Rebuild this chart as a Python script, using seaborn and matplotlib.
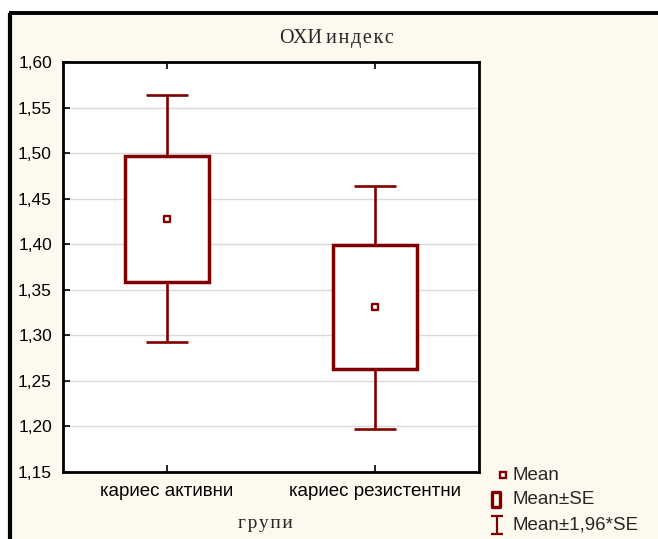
import numpy as np
import pandas as pd
import matplotlib
matplotlib.use("Agg")
import matplotlib.pyplot as plt
from matplotlib.path import Path
from matplotlib.lines import Line2D
from matplotlib.patches import Rectangle
import seaborn as sns

# Group summary: mean and standard error of the index
groups = ["кариес активни", "кариес резистентни"]
means = [1.428, 1.331]
ses = [0.069, 0.068]
yticks = [1.15, 1.20, 1.25, 1.30, 1.35, 1.40, 1.45, 1.50, 1.55, 1.60]
legend_labels = ["Mean", "Mean±SE", "Mean±1,96*SE"]

DARK = "#800000"
CREAM = "#FEF9EF"
SERIF = ["Liberation Serif", "DejaVu Serif"]

sns.set_theme(style="white")
plt.rcParams["font.family"] = ["Liberation Sans", "DejaVu Sans"]

df = pd.DataFrame({"group": groups, "mean": means, "se": ses})
df["lo_se"] = df["mean"] - df["se"]
df["hi_se"] = df["mean"] + df["se"]
df["lo_ci"] = df["mean"] - 1.96 * df["se"]
df["hi_ci"] = df["mean"] + 1.96 * df["se"]

W, H = 658, 539
fig = plt.figure(figsize=(W / 100, H / 100), dpi=100, facecolor="white")


def fx(px):
    return px / W


def fy(py):
    return 1 - py / H


# cream panel with a heavy black edge on left and top
fig.add_artist(Rectangle((fx(12), 0), 1, fy(14), transform=fig.transFigure,
                         facecolor=CREAM, edgecolor="none", zorder=-10))
fig.add_artist(Line2D([fx(10), fx(10)], [0, fy(12.5)], transform=fig.transFigure,
                      color="black", lw=3.0, solid_capstyle="butt"))
fig.add_artist(Line2D([fx(8.5), 1], [fy(12.5), fy(12.5)], transform=fig.transFigure,
                      color="black", lw=2.8, solid_capstyle="butt"))

ax = fig.add_axes([fx(63), fy(472), (479 - 63) / W, (472 - 62) / H])
ax.set_facecolor("white")

x = np.arange(len(groups))
box_w = 0.40
cap_w = 0.20

# boxes: mean ± SE
for xi, lo, hi in zip(x, df["lo_se"], df["hi_se"]):
    ax.add_patch(Rectangle((xi - box_w / 2, lo), box_w, hi - lo, facecolor="white",
                           edgecolor=DARK, lw=2.5, zorder=3))
# whiskers: mean ± 1.96*SE
ax.vlines(x, df["hi_se"], df["hi_ci"], color=DARK, lw=1.9, zorder=3)
ax.vlines(x, df["lo_ci"], df["lo_se"], color=DARK, lw=1.9, zorder=3)
ax.hlines(df["hi_ci"], x - cap_w / 2, x + cap_w / 2, color=DARK, lw=1.9, zorder=3)
ax.hlines(df["lo_ci"], x - cap_w / 2, x + cap_w / 2, color=DARK, lw=1.9, zorder=3)

# mean markers
df["pos"] = x
sns.scatterplot(data=df, x="pos", y="mean", marker="s", s=24, facecolor="white",
                edgecolor=DARK, linewidth=1.7, zorder=4, ax=ax, legend=False)

ax.set_xlim(-0.5, 1.5)
ax.set_ylim(1.15, 1.60)
ax.set_yticks(yticks)
ax.set_yticklabels([f"{v:.2f}".replace(".", ",") for v in yticks], fontsize=12.5)
ax.set_xticks(x)
ax.set_xticklabels(groups, fontsize=13.5)
ax.grid(axis="y", color="#DADADA", lw=1.0, zorder=0)
ax.grid(axis="x", visible=False)
ax.set_axisbelow(True)
ax.tick_params(axis="both", direction="in", length=5, width=1.2, color="black",
               top=True, left=True, bottom=True, right=False, labelcolor="black")
ax.tick_params(axis="x", pad=8)
ax.tick_params(axis="y", pad=8)
for s in ax.spines.values():
    s.set_visible(True)
    s.set_color("black")
    s.set_linewidth(2)
ax.set_xlabel("")
ax.set_ylabel("")

hair = "\u200a"
fig.text(fx(337), fy(38), "ОХИ\u2009" + hair.join("индекс"),
         ha="center", va="center", fontsize=14.5, family=SERIF)
fig.text(fx(265), fy(523), hair.join("групи"), ha="center", va="center",
         fontsize=14, family=SERIF)

# legend drawn as figure artists
rect_path = Path([(-0.28, -0.5), (0.28, -0.5), (0.28, 0.5), (-0.28, 0.5), (-0.28, -0.5)],
                 [Path.MOVETO, Path.LINETO, Path.LINETO, Path.LINETO, Path.CLOSEPOLY])
ibeam_path = Path([(-0.31, 0.5), (0.31, 0.5), (0, 0.5), (0, -0.5), (-0.31, -0.5), (0.31, -0.5)],
                  [Path.MOVETO, Path.LINETO, Path.MOVETO, Path.LINETO, Path.MOVETO, Path.LINETO])
legend_styles = [
    dict(marker="s", ms=5.0, mfc="white", mec=DARK, mew=1.7),
    dict(marker=rect_path, ms=10.8, mfc="none", mec=DARK, mew=2.4),
    dict(marker=ibeam_path, ms=13.2, mfc="none", mec=DARK, mew=1.6),
]
legend_x = [503, 496, 496.5]
legend_y = [475, 499, 524.5]
for lab, sty, px, py in zip(legend_labels, legend_styles, legend_x, legend_y):
    fig.add_artist(Line2D([fx(px)], [fy(py)], transform=fig.transFigure, ls="none", **sty))
    fig.text(fx(513), fy(py), lab, ha="left", va="center", fontsize=13.5)

fig.savefig("out.png", dpi=100, facecolor=fig.get_facecolor())
